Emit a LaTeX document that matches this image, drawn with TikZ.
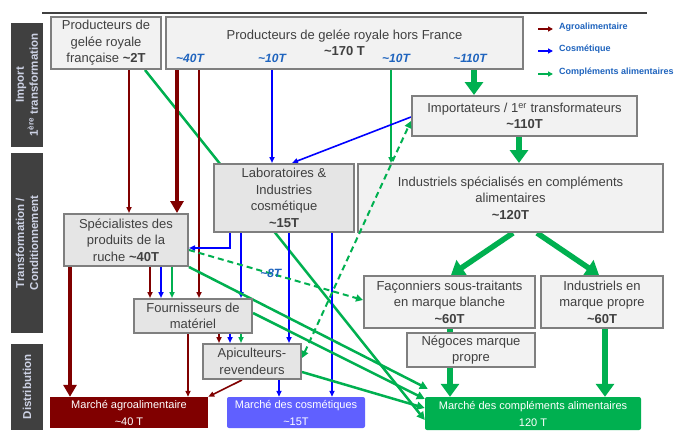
\documentclass[tikz,border=0pt]{standalone}
\usepackage{fontspec}
\setmainfont{Liberation Sans}
\usetikzlibrary{arrows.meta,calc}
\definecolor{agro}{RGB}{128,0,0}
\definecolor{cosm}{RGB}{0,0,255}
\definecolor{compl}{RGB}{0,176,80}
\definecolor{txtgray}{RGB}{64,64,64}
\definecolor{boxborder}{RGB}{127,127,127}
\definecolor{fillA}{RGB}{242,242,242}
\definecolor{fillB}{RGB}{229,229,229}
\definecolor{barcol}{RGB}{64,64,64}
\definecolor{bartext}{RGB}{205,210,228}
\definecolor{lblue}{RGB}{31,100,190}
\definecolor{mcosmfill}{RGB}{96,96,255}
\newcommand{\tld}{\textasciitilde}
\pgfdeclarelayer{bg}
\pgfsetlayers{bg,main}
\begin{document}
\begin{tikzpicture}[x=1pt,y=-1pt,
 box/.style={draw=boxborder, line width=2pt, fill=fillA, text=txtgray, align=center, inner sep=0pt, font=\fontsize{13}{16.5}\selectfont},
 boxd/.style={box, fill=fillB},
 market/.style={text=white, align=center, inner sep=0pt, font=\fontsize{11}{17}\selectfont},
 sidebar/.style={fill=barcol, draw=none, inner sep=0pt},
 sidetext/.style={text=bartext, rotate=90, align=center, font=\fontsize{11.5}{14}\selectfont\bfseries},
 qty/.style={text=lblue, font=\fontsize{12}{14}\selectfont\bfseries\itshape},
 legtext/.style={text=lblue, anchor=west, inner sep=0pt, font=\fontsize{9}{11}\selectfont\bfseries},
 agroT/.style={draw=agro, line width=1.6pt, -{Triangle[length=6pt,width=5pt]}},
 cosmT/.style={draw=cosm, line width=1.6pt, -{Triangle[length=6pt,width=5pt]}},
 complT/.style={draw=compl, line width=1.6pt, -{Triangle[length=6pt,width=5pt]}},
 agroK/.style={draw=agro, line width=4.5pt, -{Triangle[length=12pt,width=13pt]}},
 complK/.style={draw=compl, line width=5.5pt, -{Triangle[length=13pt,width=18pt]}},
 gDiag/.style={draw=compl, line width=2.5pt, -{Triangle[length=8pt,width=8pt]}},
 dashedG/.style={draw=compl, line width=2pt, dash pattern=on 6pt off 4pt, -{Triangle[length=7pt,width=7pt]}}
]
\useasboundingbox (0,0) rectangle (677,431);
\begin{pgfonlayer}{bg}
\fill[white] (0,0) rectangle (677,431);
\end{pgfonlayer}

% top rule
\coordinate (ruleA) at (42,13);
\coordinate (ruleB) at (647,13);
\draw[barcol, line width=2.5pt] (ruleA) -- (ruleB);

% side bars
\node[sidebar, minimum width=32pt, minimum height=124pt] (bar1) at (27,85) {};
\node[sidetext] (bar1t) at (bar1.center) {Import\\1\textsuperscript{ère} transformation};
\node[sidebar, minimum width=32pt, minimum height=180pt] (bar2) at (27,243) {};
\node[sidetext] (bar2t) at (bar2.center) {Transformation /\\Conditionnement};
\node[sidebar, minimum width=32pt, minimum height=86pt] (bar3) at (27,387) {};
\node[sidetext] (bar3t) at (bar3.center) {Distribution};

% boxes
\node[box, minimum width=110pt, minimum height=52pt] (prodfr) at (106,43) {Producteurs de\\gelée royale\\française \textbf{\tld 2T}};
\node[box, minimum width=357pt, minimum height=52pt] (prodhf) at (344.5,43) {Producteurs de gelée royale hors France\\\textbf{\tld 170 T}};
\node[qty] (q1) at (190,58) {\tld 40T};
\node[qty] (q2) at (272,58) {\tld 10T};
\node[qty] (q3) at (396,58) {\tld 10T};
\node[qty] (q4) at (470,58) {\tld 110T};
\node[box, minimum width=225pt, minimum height=40pt] (imp) at (524.5,116) {Importateurs / 1\textsuperscript{er} transformateurs\\\textbf{\tld 110T}};
\node[boxd, minimum width=140pt, minimum height=68pt] (labo) at (284,198) {Laboratoires \&\\Industries\\cosmétique\\\textbf{\tld 15T}};
\node[box, minimum width=305pt, minimum height=68pt] (indspec) at (510.5,198) {Industriels spécialisés en compléments\\alimentaires\\\textbf{\tld 120T}};
\node[boxd, minimum width=124pt, minimum height=52pt] (spec) at (126,240) {Spécialistes des\\produits de la\\ruche \textbf{\tld 40T}};
\node[boxd, minimum width=118pt, minimum height=34pt] (fourn) at (193,316) {Fournisseurs de\\matériel};
\node[boxd, minimum width=98pt, minimum height=35pt] (apic) at (252,361.5) {Apiculteurs-\\revendeurs};
\node[box, minimum width=171pt, minimum height=52pt] (facon) at (449.5,302) {Façonniers sous-traitants\\en marque blanche\\\textbf{\tld 60T}};
\node[box, minimum width=122pt, minimum height=52pt] (indprop) at (602,302) {Industriels en\\marque propre\\\textbf{\tld 60T}};
\node[box, minimum width=128pt, minimum height=34pt] (negoce) at (471,350) {Négoces marque\\propre};

% markets
\node[market, fill=agro, minimum width=158pt, minimum height=31pt] (magro) at (129,412.5) {Marché agroalimentaire\\\tld 40 T};
\node[market, fill=mcosmfill, rounded corners=2pt, minimum width=138pt, minimum height=31pt] (mcosm) at (296,412.5) {Marché des cosmétiques\\\tld 15T};
\node[market, fill=compl, rounded corners=2pt, minimum width=216pt, minimum height=33pt] (mcompl) at (533,413.5) {Marché des compléments alimentaires\\120 T};

% legend
\node[legtext] (lg1) at (559,27) {Agroalimentaire};
\node[legtext] (lg2) at (559,49) {Cosmétique};
\node[legtext] (lg3) at (559,72) {Compléments alimentaires};
\draw[draw=agro, line width=2pt, -{Triangle[length=5pt,width=5pt]}] ([xshift=-21pt,yshift=-2pt]lg1.west) -- ([xshift=-6pt,yshift=-2pt]lg1.west);
\draw[draw=cosm, line width=2pt, -{Triangle[length=5pt,width=5pt]}] ([xshift=-21pt,yshift=-2pt]lg2.west) -- ([xshift=-6pt,yshift=-2pt]lg2.west);
\draw[draw=compl, line width=2pt, -{Triangle[length=5pt,width=5pt]}] ([xshift=-21pt,yshift=-2pt]lg3.west) -- ([xshift=-6pt,yshift=-2pt]lg3.west);

\begin{pgfonlayer}{bg}
% producteurs FR
\draw[agroT] (prodfr.south -| 129,0) -- (spec.north -| 129,0);
\draw[gDiag] (prodfr.south -| 145,0) -- (mcompl.west |- 0,420);
% producteurs hors France
\draw[agroK] (prodhf.south -| 177,0) -- (spec.north -| 177,0);
\draw[agroT] (prodhf.south -| 199,0) -- (fourn.north -| 199,0);
\draw[cosmT] (prodhf.south -| 272,0) -- (labo.north -| 272,0);
\draw[complT] (prodhf.south -| 391,0) -- (indspec.north -| 391,0);
\draw[complK] (prodhf.south -| 474,0) -- (imp.north -| 474,0);
% importateurs
\draw[complK] (imp.south -| 519,0) -- (indspec.north -| 519,0);
\draw[cosmT] (imp.west |- 0,117) -- (labo.north -| 292,0);
% laboratoires
\draw[cosmT] (labo.south -| 230,0) |- (spec.east |- 0,248);
\draw[cosmT] (labo.south -| 241,0) -- (fourn.north -| 241,0);
\draw[cosmT] (labo.south -| 289,0) -- (apic.north -| 289,0);
\draw[cosmT] (labo.south -| 332,0) -- (mcosm.north -| 332,0);
% specialistes
\draw[agroK] (spec.south -| 70,0) -- (magro.north -| 70,0);
\draw[agroT] (spec.south -| 150,0) -- (fourn.north -| 150,0);
\draw[cosmT] (spec.south -| 161,0) -- (fourn.north -| 161,0);
\draw[complT] (spec.south -| 172,0) -- (fourn.north -| 172,0);
\draw[gDiag] (spec.south east) -- ($(mcompl.north west)+(3,-8)$);
\draw[dashedG] (spec.east |- 0,250) -- (facon.west |- 0,300) node[qty, pos=0.47] (q8) {\tld 8T};
% fournisseurs
\draw[agroT] (fourn.south -| 188,0) -- (magro.north -| 188,0);
\draw[agroT] (fourn.south -| 219,0) -- (apic.north -| 219,0);
\draw[cosmT] (fourn.south -| 230,0) -- (apic.north -| 230,0);
\draw[complT] (fourn.south -| 241,0) -- (apic.north -| 241,0);
\draw[gDiag] (fourn.east |- 0,313) -- (mcompl.west |- 0,399);
% apiculteurs
\draw[agroT] (apic.south -| 242,0) -- (magro.north east);
\draw[cosmT] (apic.south -| 279,0) -- (mcosm.north -| 279,0);
\draw[gDiag] (apic.east |- 0,372) -- (mcompl.west |- 0,408);
% industriels
\draw[complK] (indspec.south -| 513,0) -- (facon.north -| 451,0);
\draw[complK] (indspec.south -| 537,0) -- (indprop.north -| 599,0);
\draw[complK] (facon.south -| 450,0) -- (mcompl.north -| 450,0);
\draw[complK] (indprop.south -| 605,0) -- (mcompl.north -| 605,0);
\end{pgfonlayer}
\draw[dashedG, {Triangle[length=7pt,width=7pt]}-{Triangle[length=7pt,width=7pt]}] (apic.east |- 0,358) -- (imp.west |- 0,121);
\end{tikzpicture}
\end{document}
